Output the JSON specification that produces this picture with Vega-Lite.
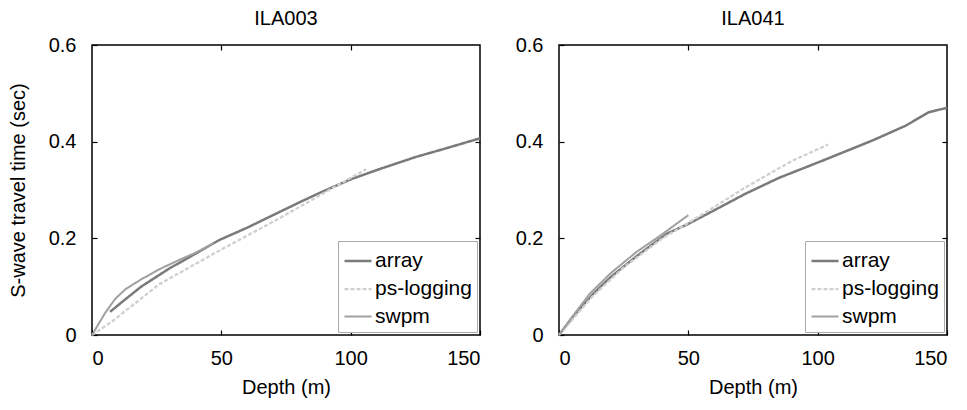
{
  "$schema": "https://vega.github.io/schema/vega-lite/v6.json",
  "autosize": {"type": "pad"},
  "padding": {"left": 7, "top": 8, "right": 5, "bottom": 5},
  "background": "white",
  "spacing": 79,
  "bounds": "flush",
  "config": {
    "font": "Liberation Sans",
    "view": {"stroke": "#000", "strokeWidth": 1.5},
    "axis": {
      "grid": false,
      "domain": false,
      "offset": -5,
      "tickColor": "#000",
      "tickSize": 5,
      "tickWidth": 1.2,
      "labelFontSize": 20,
      "labelColor": "#000",
      "labelFont": "Liberation Sans",
      "titleFont": "Liberation Sans",
      "titleFontSize": 20,
      "titleFontWeight": "normal",
      "titleColor": "#000"
    },
    "title": {"fontSize": 20, "fontWeight": "normal", "font": "Liberation Sans", "offset": 6, "color": "#000"},
    "legend": {
      "orient": "bottom-right",
      "offset": 3,
      "strokeColor": "#aaa",
      "fillColor": "white",
      "padding": 5,
      "labelFontSize": 21,
      "labelFont": "Liberation Sans",
      "labelColor": "#000",
      "symbolType": "stroke",
      "symbolSize": 729,
      "rowPadding": 3,
      "labelOffset": 2,
      "title": null
    }
  },
  "data": {"values": [
    {"panel": "ILA003", "method": "array", "depth": 7, "time": 0.048},
    {"panel": "ILA003", "method": "array", "depth": 12, "time": 0.07},
    {"panel": "ILA003", "method": "array", "depth": 19, "time": 0.1},
    {"panel": "ILA003", "method": "array", "depth": 30, "time": 0.138},
    {"panel": "ILA003", "method": "array", "depth": 40, "time": 0.168},
    {"panel": "ILA003", "method": "array", "depth": 49, "time": 0.196},
    {"panel": "ILA003", "method": "array", "depth": 60, "time": 0.222},
    {"panel": "ILA003", "method": "array", "depth": 70, "time": 0.248},
    {"panel": "ILA003", "method": "array", "depth": 80, "time": 0.274},
    {"panel": "ILA003", "method": "array", "depth": 88, "time": 0.294},
    {"panel": "ILA003", "method": "array", "depth": 100, "time": 0.322},
    {"panel": "ILA003", "method": "array", "depth": 111, "time": 0.343},
    {"panel": "ILA003", "method": "array", "depth": 125, "time": 0.368},
    {"panel": "ILA003", "method": "array", "depth": 138, "time": 0.388},
    {"panel": "ILA003", "method": "array", "depth": 150, "time": 0.407},
    {"panel": "ILA003", "method": "ps-logging", "depth": 0, "time": 0},
    {"panel": "ILA003", "method": "ps-logging", "depth": 8, "time": 0.029},
    {"panel": "ILA003", "method": "ps-logging", "depth": 26, "time": 0.105},
    {"panel": "ILA003", "method": "ps-logging", "depth": 49, "time": 0.174},
    {"panel": "ILA003", "method": "ps-logging", "depth": 73, "time": 0.243},
    {"panel": "ILA003", "method": "ps-logging", "depth": 91, "time": 0.298},
    {"panel": "ILA003", "method": "ps-logging", "depth": 106, "time": 0.343},
    {"panel": "ILA003", "method": "swpm", "depth": 0, "time": 0},
    {"panel": "ILA003", "method": "swpm", "depth": 5, "time": 0.045},
    {"panel": "ILA003", "method": "swpm", "depth": 9, "time": 0.075},
    {"panel": "ILA003", "method": "swpm", "depth": 13, "time": 0.095},
    {"panel": "ILA003", "method": "swpm", "depth": 19, "time": 0.115},
    {"panel": "ILA003", "method": "swpm", "depth": 26, "time": 0.136},
    {"panel": "ILA003", "method": "swpm", "depth": 34, "time": 0.156},
    {"panel": "ILA003", "method": "swpm", "depth": 40, "time": 0.17},
    {"panel": "ILA003", "method": "swpm", "depth": 47, "time": 0.19},
    {"panel": "ILA041", "method": "array", "depth": 0, "time": 0},
    {"panel": "ILA041", "method": "array", "depth": 5, "time": 0.035},
    {"panel": "ILA041", "method": "array", "depth": 13, "time": 0.084},
    {"panel": "ILA041", "method": "array", "depth": 20, "time": 0.12},
    {"panel": "ILA041", "method": "array", "depth": 30, "time": 0.163},
    {"panel": "ILA041", "method": "array", "depth": 41.5, "time": 0.209},
    {"panel": "ILA041", "method": "array", "depth": 50, "time": 0.23},
    {"panel": "ILA041", "method": "array", "depth": 60, "time": 0.258},
    {"panel": "ILA041", "method": "array", "depth": 72, "time": 0.292},
    {"panel": "ILA041", "method": "array", "depth": 85, "time": 0.325},
    {"panel": "ILA041", "method": "array", "depth": 102, "time": 0.361},
    {"panel": "ILA041", "method": "array", "depth": 121, "time": 0.402},
    {"panel": "ILA041", "method": "array", "depth": 134, "time": 0.433},
    {"panel": "ILA041", "method": "array", "depth": 143, "time": 0.461},
    {"panel": "ILA041", "method": "array", "depth": 150, "time": 0.47},
    {"panel": "ILA041", "method": "ps-logging", "depth": 0, "time": 0},
    {"panel": "ILA041", "method": "ps-logging", "depth": 13, "time": 0.08},
    {"panel": "ILA041", "method": "ps-logging", "depth": 25, "time": 0.14},
    {"panel": "ILA041", "method": "ps-logging", "depth": 40, "time": 0.2},
    {"panel": "ILA041", "method": "ps-logging", "depth": 50, "time": 0.232},
    {"panel": "ILA041", "method": "ps-logging", "depth": 60, "time": 0.265},
    {"panel": "ILA041", "method": "ps-logging", "depth": 72, "time": 0.305},
    {"panel": "ILA041", "method": "ps-logging", "depth": 90, "time": 0.36},
    {"panel": "ILA041", "method": "ps-logging", "depth": 104, "time": 0.394},
    {"panel": "ILA041", "method": "swpm", "depth": 0, "time": 0},
    {"panel": "ILA041", "method": "swpm", "depth": 5, "time": 0.037},
    {"panel": "ILA041", "method": "swpm", "depth": 12, "time": 0.086},
    {"panel": "ILA041", "method": "swpm", "depth": 20, "time": 0.128},
    {"panel": "ILA041", "method": "swpm", "depth": 30, "time": 0.172},
    {"panel": "ILA041", "method": "swpm", "depth": 39, "time": 0.205},
    {"panel": "ILA041", "method": "swpm", "depth": 50, "time": 0.248}
  ]},
  "resolve": {"legend": {"color": "independent", "strokeDash": "independent", "strokeWidth": "independent"}, "scale": {"color": "independent", "strokeDash": "independent", "strokeWidth": "independent"}},
  "hconcat": [
    {
      "width": 388,
      "height": 290,
      "title": "ILA003",
      "transform": [{"filter": "datum.panel === 'ILA003'"}],
      "resolve": {"axis": {"x": "independent", "y": "independent"}},
      "layer": [
        {
          "mark": {"type": "line", "opacity": 0},
          "encoding": {
            "x": {"field": "depth", "type": "quantitative", "scale": {"domain": [0, 150]}, "axis": {"orient": "top", "labels": false, "title": null, "values": [50, 100]}},
            "y": {"field": "time", "type": "quantitative", "scale": {"domain": [0, 0.6]}, "axis": {"orient": "right", "labels": false, "title": null, "values": [0.2, 0.4]}},
            "detail": {"field": "method"}
          }
        },
        {
          "mark": {"type": "line"},
          "encoding": {
            "x": {"field": "depth", "type": "quantitative", "scale": {"domain": [0, 150]}, "axis": {"title": "Depth (m)", "values": [0, 50, 100, 150], "labelPadding": 13, "titlePadding": 9}},
            "y": {"field": "time", "type": "quantitative", "scale": {"domain": [0, 0.6]}, "axis": {"title": "S-wave travel time (sec)", "values": [0, 0.2, 0.4, 0.6], "format": ".1~f", "labelPadding": 16, "titlePadding": 20}},
            "color": {"field": "method", "type": "nominal", "scale": {"domain": ["array", "ps-logging", "swpm"], "range": ["#7a7a7a", "#cfcfcf", "#a0a0a0"]}},
            "strokeDash": {"field": "method", "type": "nominal", "scale": {"domain": ["array", "ps-logging", "swpm"], "range": [[1, 0], [4, 2], [1, 0]]}},
            "strokeWidth": {"field": "method", "type": "nominal", "scale": {"domain": ["array", "ps-logging", "swpm"], "range": [2.5, 2, 1.5]}}
          }
        }
      ]
    },
    {
      "width": 388,
      "height": 290,
      "title": "ILA041",
      "transform": [{"filter": "datum.panel === 'ILA041'"}],
      "resolve": {"axis": {"x": "independent", "y": "independent"}},
      "layer": [
        {
          "mark": {"type": "line", "opacity": 0},
          "encoding": {
            "x": {"field": "depth", "type": "quantitative", "scale": {"domain": [0, 150]}, "axis": {"orient": "top", "labels": false, "title": null, "values": [50, 100]}},
            "y": {"field": "time", "type": "quantitative", "scale": {"domain": [0, 0.6]}, "axis": {"orient": "right", "labels": false, "title": null, "values": [0.2, 0.4]}},
            "detail": {"field": "method"}
          }
        },
        {
          "mark": {"type": "line"},
          "encoding": {
            "x": {"field": "depth", "type": "quantitative", "scale": {"domain": [0, 150]}, "axis": {"title": "Depth (m)", "values": [0, 50, 100, 150], "labelPadding": 13, "titlePadding": 9}},
            "y": {"field": "time", "type": "quantitative", "scale": {"domain": [0, 0.6]}, "axis": {"title": null, "values": [0, 0.2, 0.4, 0.6], "format": ".1~f", "labelPadding": 16}},
            "color": {"field": "method", "type": "nominal", "scale": {"domain": ["array", "ps-logging", "swpm"], "range": ["#7a7a7a", "#cfcfcf", "#a0a0a0"]}},
            "strokeDash": {"field": "method", "type": "nominal", "scale": {"domain": ["array", "ps-logging", "swpm"], "range": [[1, 0], [4, 2], [1, 0]]}},
            "strokeWidth": {"field": "method", "type": "nominal", "scale": {"domain": ["array", "ps-logging", "swpm"], "range": [2.5, 2, 1.5]}}
          }
        }
      ]
    }
  ]
}
